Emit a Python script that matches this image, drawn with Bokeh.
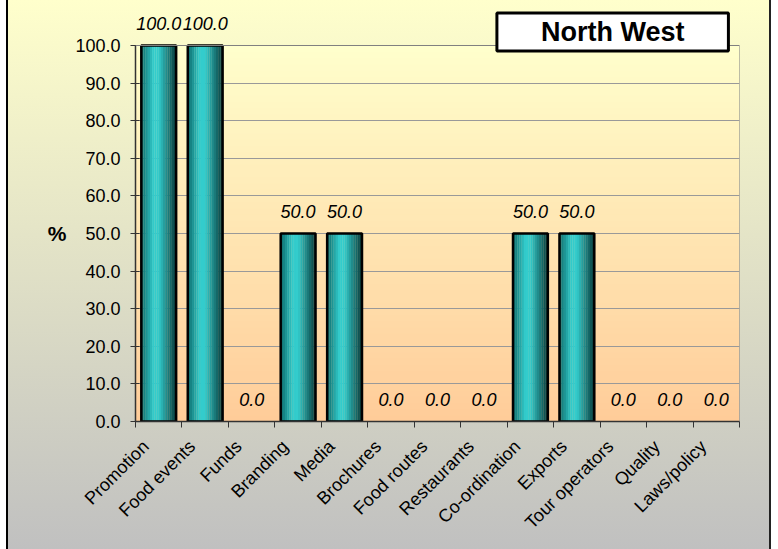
import math
from bokeh.plotting import figure
from bokeh.models import (ColumnDataSource, FixedTicker, BoxAnnotation, Label, LabelSet,
                          NumeralTickFormatter, Range1d, Span, LinearAxis)
from bokeh.transform import dodge
from bokeh.core.properties import value
from bokeh.embed import file_html
from bokeh.resources import INLINE

# ---- data ----
categories = ["Promotion", "Food events", "Funds", "Branding", "Media", "Brochures",
              "Food routes", "Restaurants", "Co-ordination", "Exports",
              "Tour operators", "Quality", "Laws/policy"]
values = [100.0, 100.0, 0.0, 50.0, 50.0, 0.0, 0.0, 0.0, 50.0, 50.0, 0.0, 0.0, 0.0]
y_ticks = [0, 10, 20, 30, 40, 50, 60, 70, 80, 90, 100]
title_text = "North West"
y_label = "%"

FONT = "Liberation Sans"
n = len(categories)
xs = list(range(n))
y_max = 100.0
src = ColumnDataSource(dict(
    x=xs, top=values,
    label=[f"{v:.1f}" for v in values],
    line_alpha=[1.0 if v > 0 else 0.0 for v in values],
))

# frame spans the whole height above the axis so that labels above 100 are not clipped
p = figure(width=778, height=549, output_backend="svg", toolbar_location=None,
           x_range=Range1d(-0.5, n - 0.5), y_range=Range1d(0, y_max * 421 / 376),
           min_border_left=135, min_border_right=39, min_border_top=0, min_border_bottom=128)
p.border_fill_color = None
p.background_fill_color = None
p.outline_line_color = None
p.styles = {
    "background": ("linear-gradient(to right, #ffffff 0px, #ffffff 6px, #000000 6px, #000000 8px, "
                   "rgba(0,0,0,0) 8px, rgba(0,0,0,0) 769px, #222222 769px, #222222 771px, "
                   "#ffffff 771px, #ffffff 778px), linear-gradient(to bottom, #FFFFCC, #C0C0C0)")
}

def lerp(c1, c2, t):
    return "#%02x%02x%02x" % tuple(int(round(a + (b - a) * t)) for a, b in zip(c1, c2))

# plot-area gradient bands (decoration), from 0 to the top of the value axis
nb = 60
for k in range(nb):
    t = (k + 0.5) / nb
    p.add_layout(BoxAnnotation(bottom=k * y_max / nb, top=min((k + 1) * y_max / nb + 0.2, y_max),
                               fill_color=lerp((255, 204, 153), (255, 255, 204), t),
                               fill_alpha=1.0, line_color=None, level="image"))

# plot-area border (top and right)
p.add_layout(Span(location=y_max, dimension="width", line_color="#808080", line_width=1))
p.segment(x0=[n - 0.5], y0=[0], x1=[n - 0.5], y1=[y_max], line_color="#808080", line_width=1)

# bars with horizontal shading
bw = 0.75
ns = 16
stops = [(0.0, (12, 105, 105)), (0.35, (51, 204, 204)), (0.5, (51, 204, 204)), (1.0, (8, 58, 58))]
def shade(t):
    for (t0, c0), (t1, c1) in zip(stops[:-1], stops[1:]):
        if t <= t1:
            return lerp(c0, c1, (t - t0) / (t1 - t0))
    return lerp(stops[-1][1], stops[-1][1], 0)

for i in range(ns):
    off = -bw / 2 + (i + 0.5) * bw / ns
    p.vbar(x=dodge("x", off), top="top", bottom=0, width=bw / ns * 1.1,
           fill_color=shade((i + 0.5) / ns), line_color=None, source=src)
p.vbar(x="x", top="top", bottom=0, width=bw, fill_color=None, line_color="black",
       line_width=2.5, line_alpha="line_alpha", source=src)

# value labels
p.add_layout(LabelSet(x="x", y="top", text="label", source=src, text_align="center",
                      text_baseline="middle", y_offset=22, text_font=value(FONT),
                      text_font_style="italic", text_font_size="18px", text_color="black"))

# axes
p.xgrid.grid_line_color = None
p.ygrid.grid_line_color = "#999999"
p.ygrid.grid_line_width = 1

p.yaxis.bounds = (0, y_max)
p.yaxis.ticker = FixedTicker(ticks=y_ticks)
p.yaxis.formatter = NumeralTickFormatter(format="0.0")
p.yaxis.major_tick_in = 4
p.yaxis.major_tick_out = 5
p.yaxis.minor_tick_line_color = None
p.yaxis.major_label_standoff = 10
p.yaxis.major_label_text_font = FONT
p.yaxis.major_label_text_font_size = "18px"
p.yaxis.major_label_text_color = "black"
p.yaxis.axis_line_color = "#333333"
p.yaxis.axis_line_width = 1.5
p.yaxis.major_tick_line_color = "#333333"

# "%" as a bare second axis on the left, labelled at the middle of the value range
pct_axis = LinearAxis(ticker=FixedTicker(ticks=[y_max / 2]),
                      major_label_overrides={y_max / 2: y_label},
                      axis_line_color=None, major_tick_line_color=None, minor_tick_line_color=None,
                      major_tick_in=0, major_tick_out=0, major_label_standoff=6,
                      major_label_text_font=FONT, major_label_text_font_style="bold",
                      major_label_text_font_size="21px", major_label_text_color="black")
p.add_layout(pct_axis, "left")

# labels anchored slightly left of the category centre (as in the original)
label_pos = [round(i - 0.28, 2) for i in xs]
p.xaxis.ticker = FixedTicker(ticks=label_pos, minor_ticks=[i - 0.5 for i in range(n + 1)])
p.xaxis.major_label_overrides = {lp: c for lp, c in zip(label_pos, categories)}
p.xaxis.major_tick_line_color = None
p.xaxis.major_tick_in = 0
p.xaxis.major_tick_out = 0
p.xaxis.minor_tick_in = 0
p.xaxis.minor_tick_out = 6
p.xaxis.minor_tick_line_color = "#333333"
p.xaxis.major_label_orientation = math.pi / 4
p.xaxis.major_label_standoff = 16
p.xaxis.major_label_text_font = FONT
p.xaxis.major_label_text_font_size = "18px"
p.xaxis.major_label_text_color = "black"
p.xaxis.axis_line_color = "#333333"
p.xaxis.axis_line_width = 1.5

# title box
p.add_layout(Label(x=9.77, y=103.6, text=title_text, text_align="center", text_baseline="middle",
                   text_font=FONT, text_font_style="bold", text_font_size="27px",
                   text_color="black",
                   background_fill_color="white", border_line_color="black",
                   border_line_width=3, padding=(44, 4)))

open("out.html", "w").write(file_html(p, INLINE))
